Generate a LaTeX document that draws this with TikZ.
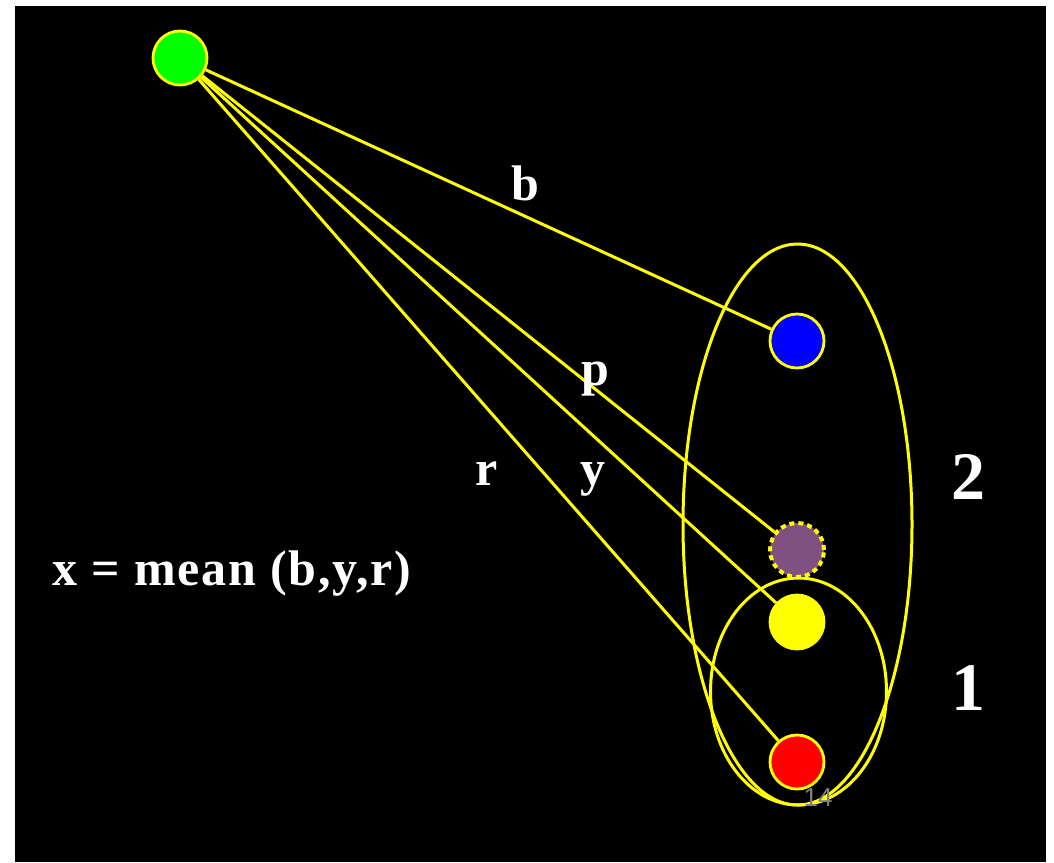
\documentclass[tikz,border=0pt]{standalone}
\usepackage{fontspec}
\setmainfont{Liberation Serif}
\newfontfamily\slidesans{Liberation Sans}
\newfontfamily\spacedserif[LetterSpace=3.5]{Liberation Serif}
\definecolor{ylw}{RGB}{255,255,0}
\definecolor{grn}{RGB}{0,255,0}
\definecolor{blu}{RGB}{0,0,255}
\definecolor{rd}{RGB}{255,0,0}
\definecolor{purp}{RGB}{128,80,128}
\definecolor{pgnum}{RGB}{128,128,128}
\tikzset{
  ball/.style={circle, minimum size=54pt, inner sep=0pt, draw=ylw, line width=2.8pt},
  link/.style={draw=ylw, line width=3pt},
  ring/.style={draw=ylw, line width=3pt},
  lbl/.style={text=white, font=\fontsize{50}{50}\selectfont\bfseries, inner sep=0pt, anchor=base},
  biglbl/.style={text=white, font=\fontsize{68}{68}\selectfont\bfseries, inner sep=0pt, anchor=base}
}
\begin{document}
\begin{tikzpicture}[x=1pt,y=-1pt]
\useasboundingbox (0,0) rectangle (1054,862);
\fill[white] (0,0) rectangle (1054,862);
\fill[black] (15,6) rectangle (1046,862);
% ellipses
\draw[ring] (797.5,524.5) ellipse [x radius=114.5pt, y radius=280.5pt];
\draw[ring] (798.5,691.5) ellipse [x radius=88pt, y radius=113.5pt];
% nodes
\node[ball, fill=grn] (g) at (180,58) {};
\node[ball, fill=blu] (bl) at (797,341) {};
\node[ball, fill=purp, draw=ylw, dash pattern=on 5pt off 4pt, line width=4pt] (pu) at (797,550) {};
\node[ball, fill=ylw] (ye) at (797,622) {};
\node[ball, fill=rd] (re) at (797,762) {};
% links
\draw[link] (g) -- (bl);
\draw[link] (g) -- (pu);
\draw[link] (g) -- (ye);
\draw[link] (g) -- (re);
% labels
\node[lbl] (lb) at (525,200) {b};
\node[lbl] (lp) at (595,385) {p};
\node[lbl] (lr) at (487,485) {r};
\node[lbl] (ly) at (593,485) {y};
\node[biglbl] (l2) at (968,499) {2};
\node[biglbl] (l1) at (968,710) {1};
\node[lbl, anchor=base west, font=\spacedserif\fontsize{50}{50}\selectfont\bfseries] (mean) at (52,585) {x = mean (b,y,r)};
\node[text=pgnum, font=\slidesans\fontsize{26}{26}\selectfont, inner sep=0pt, anchor=base] (pg) at (818,806) {14};
\end{tikzpicture}
\end{document}
